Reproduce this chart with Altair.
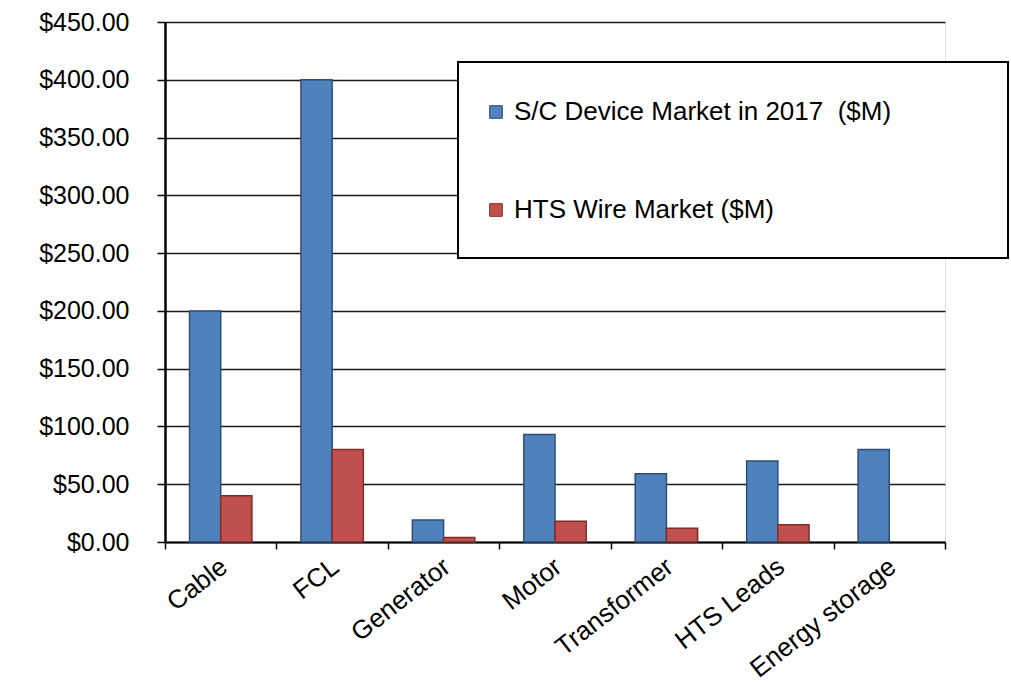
import altair as alt
import pandas as pd

categories = ["Cable", "FCL", "Generator", "Motor", "Transformer", "HTS Leads", "Energy storage"]
series_names = ["S/C Device Market in 2017\u00a0 ($M)", "HTS Wire Market ($M)"]
device_market = [200, 400, 19, 93, 59, 70, 80]
wire_market = [40, 80, 4, 18, 12, 15, 0]
y_ticks = [0, 50, 100, 150, 200, 250, 300, 350, 400, 450]

fill_colors = ["#4F81BD", "#C0504D"]
edge_colors = ["#2c4d78", "#7d2e2c"]

rows = []
for c, d, w in zip(categories, device_market, wire_market):
    rows.append({"category": c, "series": series_names[0], "value": d})
    rows.append({"category": c, "series": series_names[1], "value": w})
df = pd.DataFrame(rows)
df = df[df["value"] > 0]

FONT = "Liberation Sans"

bars = alt.Chart(df).mark_bar(strokeWidth=1.5).encode(
    x=alt.X(
        "category:N",
        sort=categories,
        scale=alt.Scale(domain=categories, paddingInner=0, paddingOuter=0),
        axis=alt.Axis(
            title=None,
            labelAngle=-38,
            labelFontSize=26,
            labelColor="#000",
            labelFont=FONT,
            labelPadding=4,
            labelOffset=-5,
            tickBand="extent",
            tickSize=7,
            tickColor="#000",
            tickWidth=1.5,
            domainColor="#000",
            domainWidth=2,
            grid=False,
        ),
    ),
    xOffset=alt.XOffset("series:N", sort=series_names,
                        scale=alt.Scale(domain=series_names, paddingInner=0, paddingOuter=0.786)),
    y=alt.Y(
        "value:Q",
        scale=alt.Scale(domain=[0, 450], nice=False, zero=True),
        axis=alt.Axis(
            title=None,
            values=y_ticks,
            format="$,.2f",
            labelFontSize=25,
            labelFont=FONT,
            labelColor="#000",
            labelPadding=28,
            tickSize=8,
            tickColor="#000",
            tickWidth=1.5,
            domainColor="#000",
            domainWidth=2.5,
            grid=True,
            gridColor="#1a1a1a",
            gridWidth=1.5,
        ),
    ),
    color=alt.Color(
        "series:N",
        sort=series_names,
        scale=alt.Scale(domain=series_names, range=fill_colors),
        legend=alt.Legend(
            title=None,
            orient="none",
            legendX=318,
            legendY=77,
            padding=0,
            rowPadding=72,
            labelFontSize=26,
            labelFont=FONT,
            labelColor="#000",
            labelLimit=700,
            labelOffset=5,
            symbolType="square",
            symbolSize=160,
            symbolStrokeWidth=1,
            symbolStrokeColor="#333",
        ),
    ),
    stroke=alt.Stroke(
        "series:N",
        sort=series_names,
        scale=alt.Scale(domain=series_names, range=edge_colors),
        legend=None,
    ),
)

legend_box = alt.Chart(pd.DataFrame({"box": [0]})).mark_rect(
    fill="white", stroke="#000", strokeWidth=2
).encode(
    x=alt.value(293), x2=alt.value(843), y=alt.value(40), y2=alt.value(236)
)

chart = alt.layer(bars, legend_box).properties(
    width=780,
    height=520,
    autosize=alt.AutoSizeParams(type="none"),
    padding={"left": 165, "top": 22, "right": 66, "bottom": 140},
).configure_view(
    stroke=None
).configure(
    font=FONT,
    background="white",
)

chart.save("out.html", embed_options={"renderer": "svg", "actions": False})
